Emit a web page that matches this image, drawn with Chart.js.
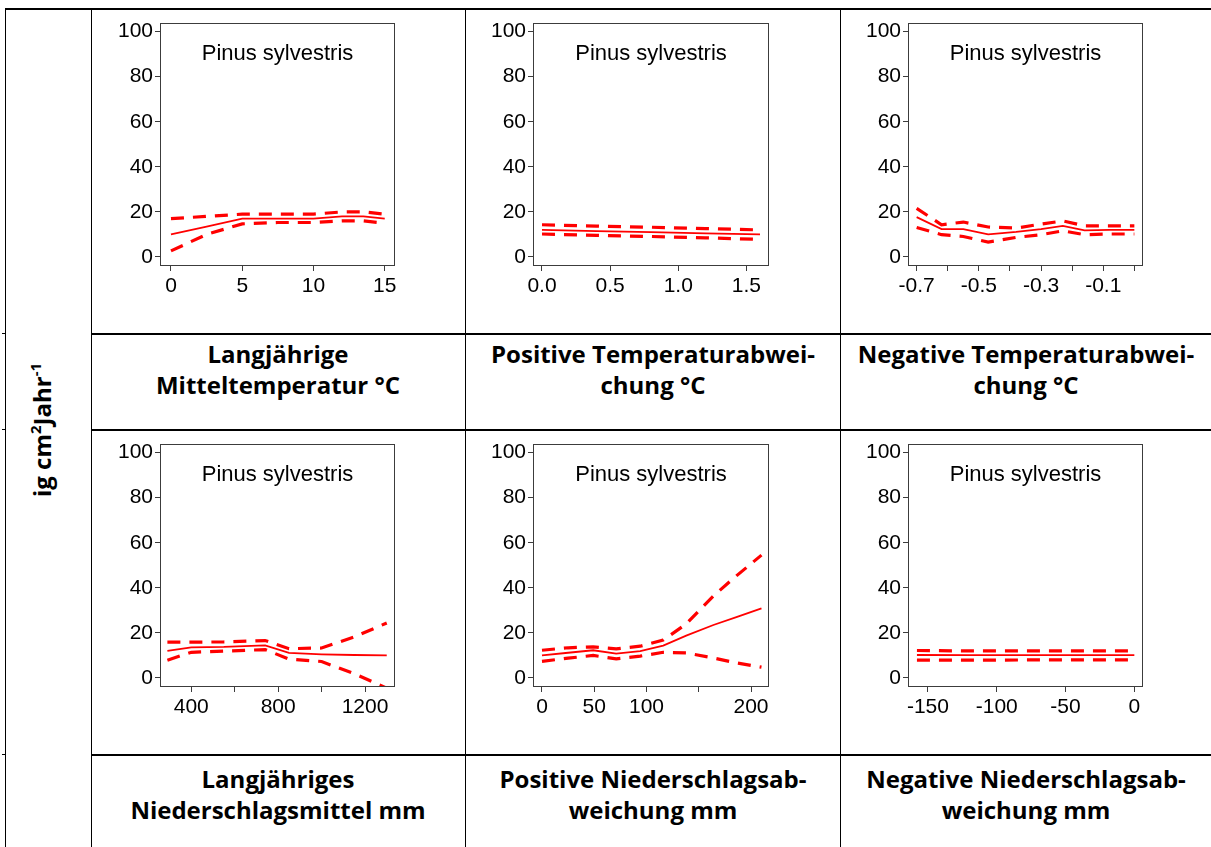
<!DOCTYPE html>
<html>
<head>
<meta charset="utf-8">
<script src="https://cdn.jsdelivr.net/npm/chart.js@4.4.0/dist/chart.umd.min.js"></script>
<style>
  html, body { margin: 0; padding: 0; background: #fff; }
  #page { position: relative; width: 1211px; height: 847px; overflow: hidden; background: #fff; }
  .ln { position: absolute; background: #000; }
  .panel { position: absolute; }
  .cap { position: absolute; font-family: "Open Sans", Lato, sans-serif; font-weight: 700; font-size: 24px;
         line-height: 31px; color: #000; text-align: center; white-space: nowrap; }
  .ylab { position: absolute; font-family: "Open Sans", Lato, sans-serif; font-weight: 700; font-size: 24px;
          color: #000; white-space: nowrap; transform: translate(-50%, -50%) rotate(-90deg); left: 41px; top: 430px; }
  .ylab sup { font-size: 15px; vertical-align: 10px; line-height: 0; }
</style>
</head>
<body>
<div id="page">
  <!-- table rules -->
  <div class="ln" style="left:5px;top:8px;width:1206px;height:2px"></div>
  <div class="ln" style="left:5px;top:8px;width:1px;height:839px"></div>
  <div class="ln" style="left:91px;top:8px;width:1px;height:839px"></div>
  <div class="ln" style="left:465px;top:8px;width:1px;height:839px"></div>
  <div class="ln" style="left:840px;top:8px;width:1px;height:839px"></div>
  <div class="ln" style="left:91px;top:333px;width:1120px;height:2px"></div>
  <div class="ln" style="left:91px;top:429px;width:1120px;height:2px"></div>
  <div class="ln" style="left:91px;top:754px;width:1120px;height:2px"></div>
  <div class="ln" style="left:2px;top:333px;width:3px;height:1px"></div>
  <div class="ln" style="left:2px;top:429px;width:3px;height:1px"></div>
  <div class="ln" style="left:2px;top:754px;width:3px;height:1px"></div>

  <div class="ylab">ig cm<sup>2</sup>Jahr<sup>-1</sup></div>

  <div class="cap" style="left:91px;width:374px;top:338px">Langjährige<br>Mitteltemperatur °C</div>
  <div class="cap" style="left:466px;width:374px;top:338px">Positive Temperaturabwei-<br>chung °C</div>
  <div class="cap" style="left:841px;width:370px;top:338px">Negative Temperaturabwei-<br>chung °C</div>
  <div class="cap" style="left:91px;width:374px;top:763px">Langjähriges<br>Niederschlagsmittel mm</div>
  <div class="cap" style="left:466px;width:374px;top:763px">Positive Niederschlagsab-<br>weichung mm</div>
  <div class="cap" style="left:841px;width:370px;top:763px">Negative Niederschlagsab-<br>weichung mm</div>

  <div class="panel" id="p1"><canvas id="c1"></canvas></div>
  <div class="panel" id="p2"><canvas id="c2"></canvas></div>
  <div class="panel" id="p3"><canvas id="c3"></canvas></div>
  <div class="panel" id="p4"><canvas id="c4"></canvas></div>
  <div class="panel" id="p5"><canvas id="c5"></canvas></div>
  <div class="panel" id="p6"><canvas id="c6"></canvas></div>
</div>

<script>
// Shared y axis (ig cm² Jahr⁻¹)
const yTicks = [0, 20, 40, 60, 80, 100];
const speciesName = 'Pinus sylvestris';

// Langjährige Mitteltemperatur °C
const tempX     = [0, 2.5, 5, 7.5, 10, 12, 13.5, 15];
const tempFit   = [10, 13.5, 17, 17, 17, 18, 18, 17];
const tempUpper = [17, 18, 19, 19, 19, 20, 20, 19];
const tempLower = [2.7, 10, 14.7, 15.3, 15.3, 16, 16, 15];
const tempTicks = [0, 5, 10, 15];
const tempTickLabels = ['0', '5', '10', '15'];

// Positive Temperaturabweichung °C
const posTempX     = [0, 0.4, 0.8, 1.2, 1.6];
const posTempFit   = [12, 11.5, 11, 10.5, 10];
const posTempUpper = [14.3, 13.7, 13.2, 12.6, 12];
const posTempLower = [10.2, 9.6, 9.1, 8.5, 7.8];
const posTempTicks = [0, 0.5, 1, 1.5];
const posTempTickLabels = ['0.0', '0.5', '1.0', '1.5'];

// Negative Temperaturabweichung °C
const negTempX     = [-0.7, -0.62, -0.55, -0.47, -0.38, -0.3, -0.23, -0.16, -0.08, 0];
const negTempFit   = [17.7, 12.4, 12.4, 10, 11.1, 12.4, 13.8, 11.8, 12, 12];
const negTempUpper = [21.6, 14.3, 15.5, 13.3, 12.8, 14.6, 16, 13.8, 13.8, 13.8];
const negTempLower = [13.1, 9.9, 9.1, 6.6, 8.7, 9.9, 11.6, 9.9, 10.2, 10.2];
const negTempTicks = [-0.7, -0.6, -0.5, -0.4, -0.3, -0.2, -0.1, 0];
const negTempTickLabels = ['-0.7', '', '-0.5', '', '-0.3', '', '-0.1', ''];

// Langjähriges Niederschlagsmittel mm
const precX     = [290, 400, 550, 740, 850, 1000, 1150, 1300];
const precFit   = [12, 13.6, 13.8, 14.5, 11.1, 10.5, 10.2, 10];
const precUpper = [15.9, 15.9, 16, 16.6, 13, 13.3, 18.2, 24.4];
const precLower = [7.9, 11.4, 11.9, 12.6, 8.4, 7.3, 1.9, -4.5];
const precTicks = [400, 600, 800, 1000, 1200];
const precTickLabels = ['400', '', '800', '', '1200'];

// Positive Niederschlagsabweichung mm
const posPrecX     = [0, 25, 49, 71, 94, 116, 138, 164, 186, 210];
const posPrecFit   = [10, 11.2, 12.3, 10.8, 11.9, 14.4, 18.8, 23.5, 27, 30.9];
const posPrecUpper = [12.3, 13.4, 13.8, 12.9, 14.1, 16.8, 24, 36.4, 45.3, 54.5];
const posPrecLower = [7.4, 8.8, 10, 8.5, 9.7, 11.4, 11.1, 8.9, 6.7, 4.8];
const posPrecTicks = [0, 50, 100, 150, 200];
const posPrecTickLabels = ['0', '50', '100', '', '200'];

// Negative Niederschlagsabweichung mm
const negPrecX     = [-158, -120, -80, -40, 0];
const negPrecFit   = [10.2, 10.1, 10.1, 10.1, 10.1];
const negPrecUpper = [12.2, 12, 12, 12, 12];
const negPrecLower = [7.9, 7.9, 8, 8, 8];
const negPrecTicks = [-150, -100, -50, 0];
const negPrecTickLabels = ['-150', '-100', '-50', '0'];

const RED = '#ff0000';
const FRAME = '#3c3c3c';
const Y_AXIS_W = 60, X_AXIS_H = 45, PAD_TOP = 18, PAD_RIGHT = 22;

// Frame around the plot area plus the species name inside it
const framePlugin = {
  id: 'frameAndLabel',
  afterDatasetsDraw(chart) {
    const a = chart.chartArea, ctx = chart.ctx;
    ctx.save();
    ctx.strokeStyle = FRAME;
    ctx.lineWidth = 1;
    ctx.strokeRect(a.left + 0.5, a.top + 0.5, a.right - a.left - 1, a.bottom - a.top - 1);
    ctx.fillStyle = '#000';
    ctx.font = '22px "Liberation Sans", Arial, sans-serif';
    ctx.textAlign = 'center';
    ctx.textBaseline = 'alphabetic';
    ctx.fillText(speciesName, (a.left + a.right) / 2, a.top + 37);
    ctx.restore();
  }
};

function pts(xs, ys) { return xs.map((x, i) => ({ x: x, y: ys[i] })); }

function makePanel(n, area, xs, fit, upper, lower, xMin, xMax, ticks, labels) {
  const box = document.getElementById('p' + n);
  const w = (area.right - area.left) + Y_AXIS_W + PAD_RIGHT;
  const h = (area.bottom - area.top) + PAD_TOP + X_AXIS_H;
  box.style.left = (area.left - Y_AXIS_W) + 'px';
  box.style.top = (area.top - PAD_TOP) + 'px';
  box.style.width = w + 'px';
  box.style.height = h + 'px';
  const cv = document.getElementById('c' + n);
  cv.width = w; cv.height = h;
  cv.style.width = w + 'px'; cv.style.height = h + 'px';

  const tickFont = { family: '"Liberation Sans", Arial, sans-serif', size: 21 };
  const dashed = { borderColor: RED, borderWidth: 3.2, borderDash: [13, 9], pointRadius: 0, tension: 0, fill: false, clip: 0 };

  new Chart(cv, {
    type: 'line',
    data: {
      datasets: [
        Object.assign({ label: 'obere Grenze', data: pts(xs, upper) }, dashed),
        { label: 'Schätzung', data: pts(xs, fit), borderColor: RED, borderWidth: 1.8, pointRadius: 0, tension: 0, fill: false, clip: 0 },
        Object.assign({ label: 'untere Grenze', data: pts(xs, lower) }, dashed)
      ]
    },
    options: {
      responsive: false,
      animation: false,
      devicePixelRatio: 1,
      layout: { padding: { top: PAD_TOP, right: PAD_RIGHT, left: 0, bottom: 0 } },
      plugins: { legend: { display: false }, tooltip: { enabled: false }, title: { display: false } },
      scales: {
        x: {
          type: 'linear',
          min: xMin, max: xMax,
          border: { display: false },
          grid: { drawOnChartArea: false, drawTicks: true, tickLength: 5, tickColor: FRAME, lineWidth: 1 },
          afterBuildTicks: s => { s.ticks = ticks.map(v => ({ value: v })); },
          afterFit: s => { s.height = X_AXIS_H; },
          ticks: {
            autoSkip: false, maxRotation: 0, minRotation: 0, padding: 3,
            color: '#000', font: tickFont,
            callback: (v, i) => labels[i]
          }
        },
        y: {
          type: 'linear',
          min: -4, max: 103.8,
          border: { display: false },
          grid: { drawOnChartArea: false, drawTicks: true, tickLength: 5, tickColor: FRAME, lineWidth: 1 },
          afterBuildTicks: s => { s.ticks = yTicks.map(v => ({ value: v })); },
          afterFit: s => { s.width = Y_AXIS_W; },
          ticks: { autoSkip: false, padding: 2, color: '#000', font: tickFont, callback: v => String(v) }
        }
      }
    },
    plugins: [framePlugin]
  });
}

const row1 = { top: 23, bottom: 266 }, row2 = { top: 444, bottom: 687 };
const col1 = { left: 160, right: 395 }, col2 = { left: 533, right: 769 }, col3 = { left: 908, right: 1143 };
const A = (r, c) => ({ top: r.top, bottom: r.bottom, left: c.left, right: c.right });

makePanel(1, A(row1, col1), tempX, tempFit, tempUpper, tempLower, -0.77, 15.72, tempTicks, tempTickLabels);
makePanel(2, A(row1, col2), posTempX, posTempFit, posTempUpper, posTempLower, -0.066, 1.666, posTempTicks, posTempTickLabels);
makePanel(3, A(row1, col3), negTempX, negTempFit, negTempUpper, negTempLower, -0.7278, 0.0278, negTempTicks, negTempTickLabels);
makePanel(4, A(row2, col1), precX, precFit, precUpper, precLower, 256, 1338, precTicks, precTickLabels);
makePanel(5, A(row2, col2), posPrecX, posPrecFit, posPrecUpper, posPrecLower, -8.6, 217.2, posPrecTicks, posPrecTickLabels);
makePanel(6, A(row2, col3), negPrecX, negPrecFit, negPrecUpper, negPrecLower, -164.5, 6.3, negPrecTicks, negPrecTickLabels);
</script>
</body>
</html>
